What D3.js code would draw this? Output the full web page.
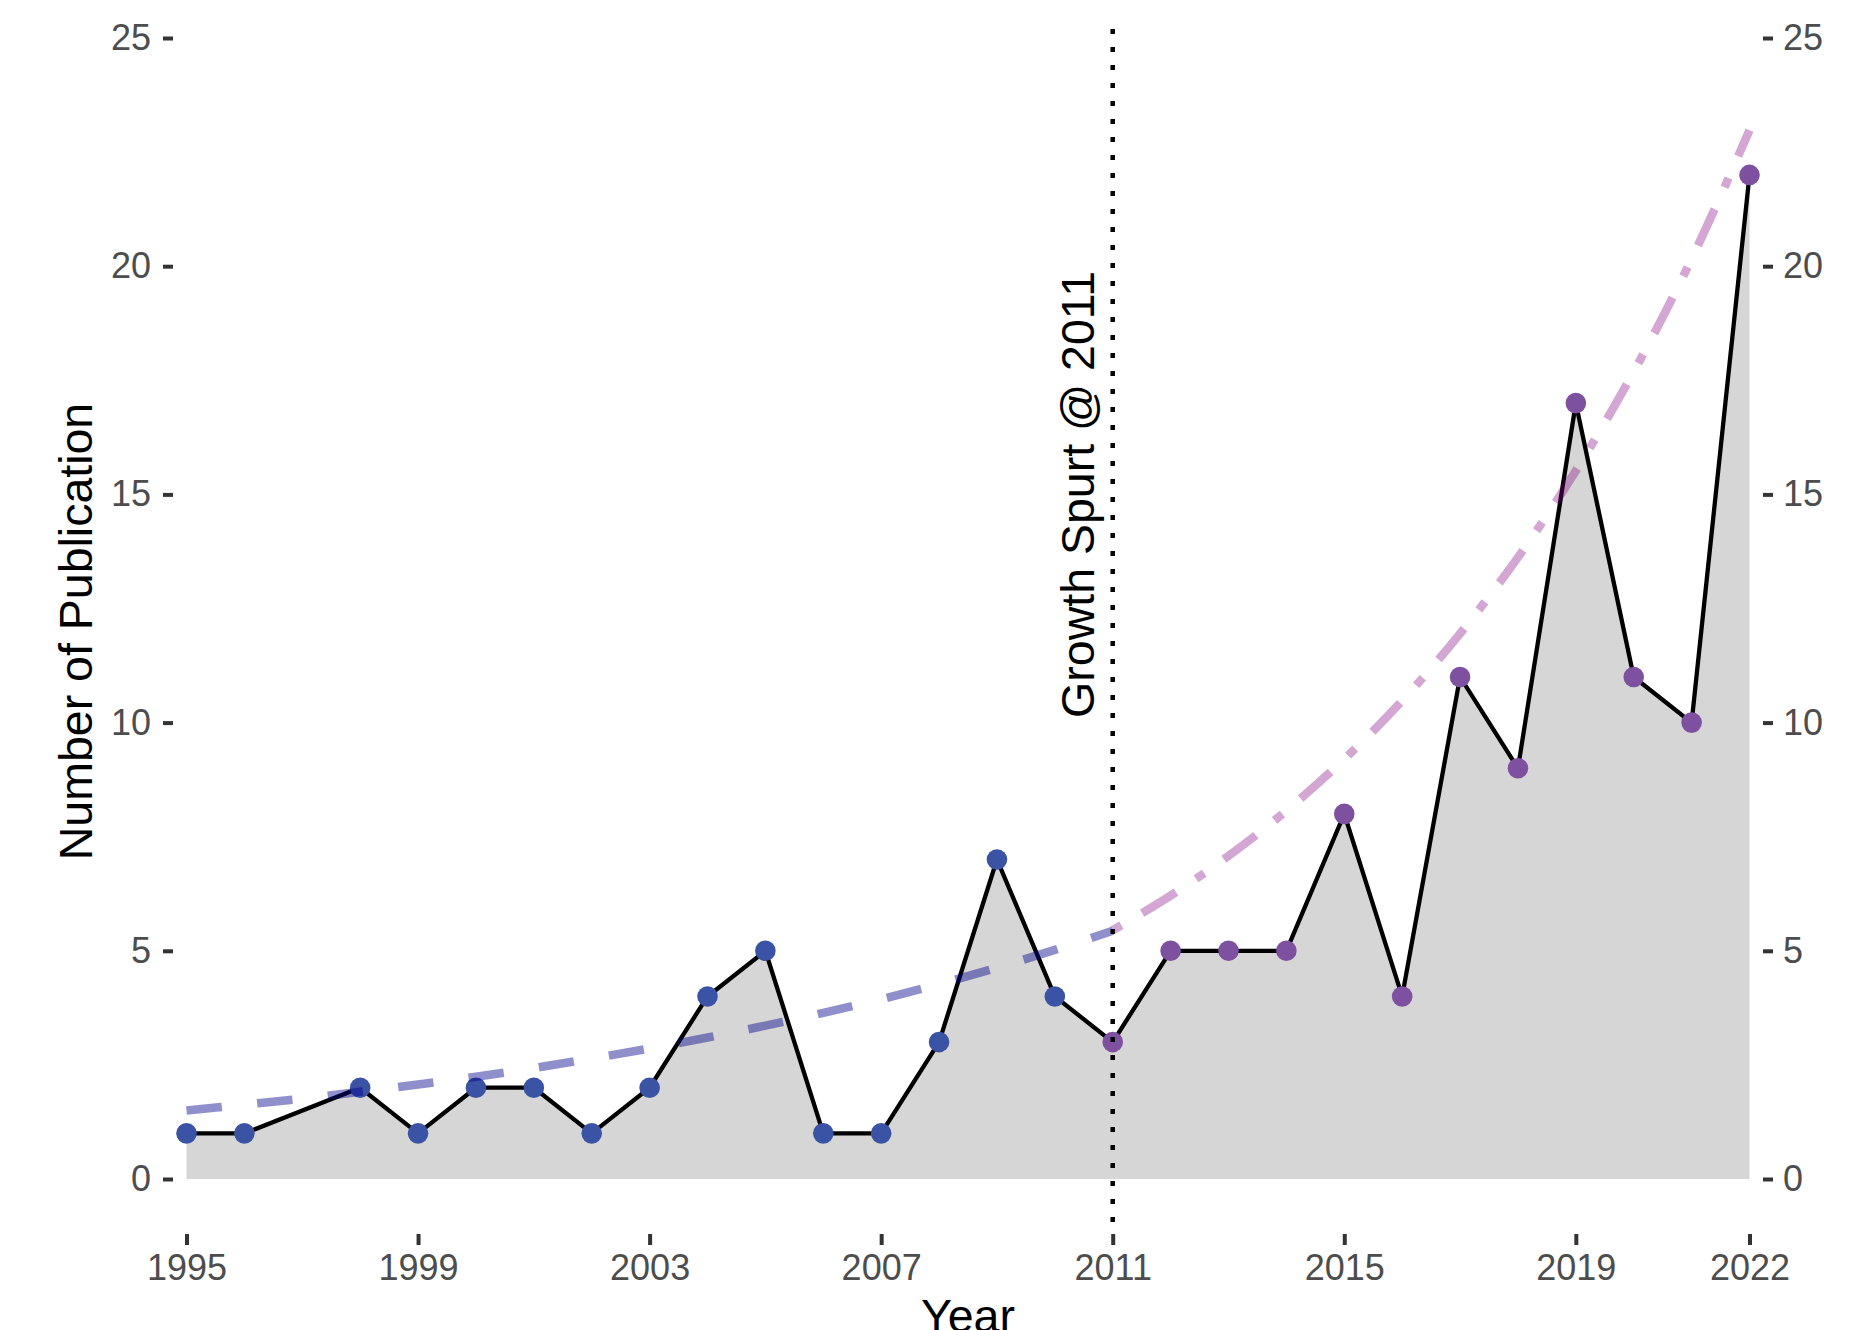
<!DOCTYPE html>
<html>
<head>
<meta charset="utf-8">
<script src="https://cdn.jsdelivr.net/npm/d3@7"></script>
<style>
  body { margin: 0; background: #fff; }
  svg { display: block; font-family: "Liberation Sans", Arial, sans-serif; }
  .tick text { fill: #4d4d4d; font-size: 36px; }
  .tick line { stroke: #333; stroke-width: 4; }
  .title { fill: #000; font-size: 46.5px; }
</style>
</head>
<body>
<svg id="chart" width="1863" height="1330"></svg>
<script>
// publications per year (no record for 1997)
const years  = [1995, 1996, 1998, 1999, 2000, 2001, 2002, 2003, 2004, 2005, 2006, 2007, 2008, 2009, 2010,
                2011, 2012, 2013, 2014, 2015, 2016, 2017, 2018, 2019, 2020, 2021, 2022];
const counts = [1, 1, 2, 1, 2, 2, 1, 2, 4, 5, 1, 1, 3, 7, 4,
                3, 5, 5, 5, 8, 4, 11, 9, 17, 11, 10, 22];

// trend curves
const earlyTrendYears  = [1995, 1996, 1997, 1998, 1999, 2000, 2001, 2002, 2003, 2004, 2005, 2006, 2007, 2008, 2009, 2010, 2011];
const earlyTrendValues = [1.50, 1.63, 1.76, 1.91, 2.07, 2.24, 2.43, 2.64, 2.86, 3.10, 3.36, 3.64, 3.94, 4.27, 4.63, 5.02, 5.44];
const lateTrendYears   = [2011, 2012, 2013, 2014, 2015, 2016, 2017, 2018, 2019, 2020, 2021, 2022];
const lateTrendValues  = [5.45, 6.21, 7.08, 8.07, 9.20, 10.48, 11.95, 13.62, 15.52, 17.69, 20.16, 22.98];

const spurtYear = 2011;
const xTicks = [1995, 1999, 2003, 2007, 2011, 2015, 2019, 2022];
const yTicks = [0, 5, 10, 15, 20, 25];

const panel = { left: 173, right: 1763, top: 29, bottom: 1234 };
const svg = d3.select('#chart');

const x = d3.scaleLinear().domain([1995, 2022]).range([186.5, 1749.5]);
const y = d3.scaleLinear().domain([0, 25]).range([1179, 38]);

const rows = years.map((yr, i) => ({ year: yr, n: counts[i] }));

svg.append('path')
  .datum(rows)
  .attr('fill', '#d6d6d6')
  .attr('d', d3.area().x(d => x(d.year)).y0(y(0)).y1(d => y(d.n)));

svg.append('path')
  .datum(rows)
  .attr('fill', 'none')
  .attr('stroke', '#000')
  .attr('stroke-width', 4.3)
  .attr('d', d3.line().x(d => x(d.year)).y(d => y(d.n)));

svg.append('g').selectAll('circle')
  .data(rows)
  .join('circle')
  .attr('cx', d => x(d.year))
  .attr('cy', d => y(d.n))
  .attr('r', 10.3)
  .attr('fill', d => d.year < spurtYear ? '#3a53a4' : '#7d50a0');

svg.append('path')
  .datum(earlyTrendYears.map((yr, i) => [yr, earlyTrendValues[i]]))
  .attr('fill', 'none')
  .attr('stroke', 'rgba(0,0,139,0.44)')
  .attr('stroke-width', 8.5)
  .attr('stroke-dasharray', '35.5,35.5')
  .attr('d', d3.line().curve(d3.curveMonotoneX).x(d => x(d[0])).y(d => y(d[1])));

svg.append('path')
  .datum(lateTrendYears.map((yr, i) => [yr, lateTrendValues[i]]))
  .attr('fill', 'none')
  .attr('stroke', 'rgba(128,0,128,0.35)')
  .attr('stroke-width', 8.5)
  .attr('stroke-dasharray', '10,24,40,24')
  .attr('d', d3.line().curve(d3.curveMonotoneX).x(d => x(d[0])).y(d => y(d[1])));

svg.append('line')
  .attr('x1', x(spurtYear)).attr('x2', x(spurtYear))
  .attr('y1', panel.top).attr('y2', panel.bottom)
  .attr('stroke', '#000')
  .attr('stroke-width', 4.5)
  .attr('stroke-dasharray', '5,13');

svg.append('text')
  .attr('class', 'title')
  .attr('transform', `translate(${x(spurtYear) - 19},${y(15)}) rotate(-90)`)
  .attr('text-anchor', 'middle')
  .text('Growth Spurt @ 2011');

// axes
const xAxis = svg.append('g')
  .attr('transform', `translate(0,${panel.bottom})`)
  .call(d3.axisBottom(x).tickValues(xTicks).tickFormat(d3.format('d')).tickSize(11).tickPadding(9));
const yLeft = svg.append('g')
  .attr('transform', `translate(${panel.left},0)`)
  .call(d3.axisLeft(y).tickValues(yTicks).tickSize(10).tickPadding(12));
const yRight = svg.append('g')
  .attr('transform', `translate(${panel.right},0)`)
  .call(d3.axisRight(y).tickValues(yTicks).tickSize(10).tickPadding(10));
[xAxis, yLeft, yRight].forEach(g => {
  g.select('.domain').remove();
  g.attr('font-family', null).attr('font-size', null);
});

// x title sits partly below the canvas edge, as in the original
svg.append('text')
  .attr('class', 'title')
  .attr('x', (panel.left + panel.right) / 2)
  .attr('y', 1332)
  .attr('text-anchor', 'middle')
  .text('Year');

svg.append('text')
  .attr('class', 'title')
  .attr('transform', `translate(92,${(panel.top + panel.bottom) / 2}) rotate(-90)`)
  .attr('text-anchor', 'middle')
  .text('Number of Publication');
</script>
</body>
</html>
